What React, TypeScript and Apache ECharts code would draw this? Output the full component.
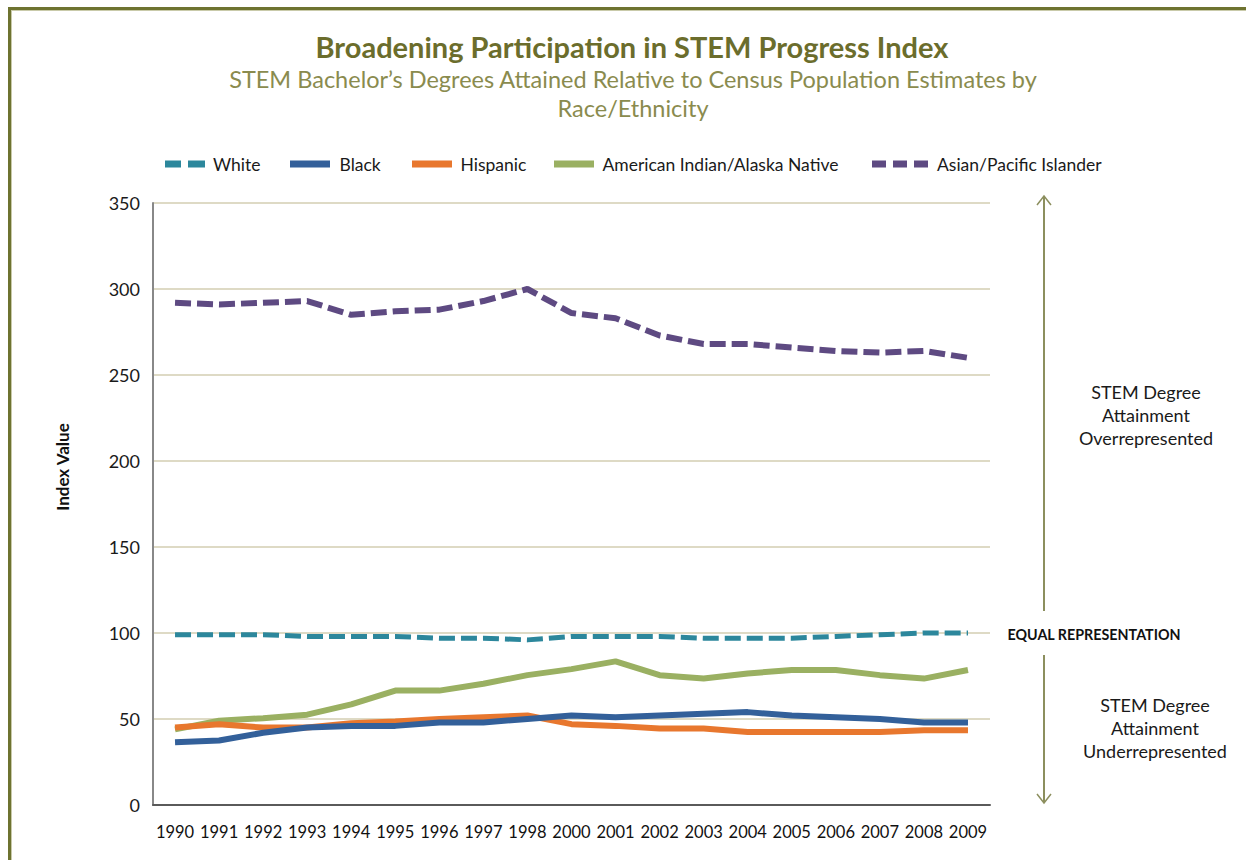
import { useEffect, useRef } from 'react';
import * as echarts from 'echarts';

const years = ['1990', '1991', '1992', '1993', '1994', '1995', '1996', '1997', '1998', '2000', '2001', '2002', '2003', '2004', '2005', '2006', '2007', '2008', '2009'];
const white = [99, 99, 99, 98, 98, 98, 97, 97, 96, 98, 98, 98, 97, 97, 97, 98, 99, 100, 100];
const black = [36.5, 37.5, 42, 45, 46, 46, 48, 48, 50, 52, 51, 52, 53, 54, 52, 51, 50, 48, 48];
const hispanic = [45, 47, 45, 45, 47.5, 48.5, 50, 51, 52, 47, 46, 44.5, 44.5, 42.5, 42.5, 42.5, 42.5, 43.5, 43.5];
const amIndian = [44, 49, 50.5, 52.5, 58.5, 66.5, 66.5, 70.5, 75.5, 79, 83.5, 75.5, 73.5, 76.5, 78.5, 78.5, 75.5, 73.5, 78.5];
const asian = [292, 291, 292, 293, 285, 287, 288, 293, 300, 286, 283, 273, 268, 268, 266, 264, 263, 264, 260];
const yTicks = [0, 50, 100, 150, 200, 250, 300, 350];

const FONT = 'Lato, "Open Sans", sans-serif';
const C_WHITE = '#2C879C';
const C_BLACK = '#33609A';
const C_HISP = '#E8772E';
const C_AMIND = '#9AB062';
const C_ASIAN = '#5E4A82';
const OLIVE = '#6E7330';
const ARROW = '#8C8F5E';

export default function App() {
  const ref = useRef<HTMLDivElement>(null);
  useEffect(() => {
    document.body.style.margin = '0';
    const chart = echarts.init(ref.current!, null, { renderer: 'svg' });
    const legendText = { fontFamily: FONT, fontSize: 17.5, color: '#1a1a1a', padding: [0, 0, 0, 3] };
    const mkLegend = (left: number, name: string, icon: string, w: number) => ({
      left,
      top: 150,
      itemWidth: w,
      itemHeight: 7,
      textStyle: legendText,
      data: [{ name, icon }],
    });
    const rectIcon = 'path://M0,0H40V7H0Z';
    chart.setOption({
      animation: false,
      backgroundColor: '#ffffff',
      legend: [
        mkLegend(160, 'White', 'path://M0,0H16V7H0Z M23,0H40V7H23Z', 40),
        mkLegend(285, 'Black', rectIcon, 43),
        mkLegend(407, 'Hispanic', rectIcon, 41),
        mkLegend(549, 'American Indian/Alaska Native', rectIcon, 41),
        mkLegend(867, 'Asian/Pacific Islander', 'path://M0,0H14V7H0Z M21,0H35V7H21Z M42,0H56V7H42Z', 58),
      ],
      grid: { left: 153, right: 256, top: 203, bottom: 55 },
      xAxis: {
        type: 'category',
        data: years,
        boundaryGap: true,
        axisLine: { lineStyle: { color: '#5a5a5a', width: 2 } },
        axisTick: { inside: true, length: 12, lineStyle: { color: '#6a6a6a', width: 1.5 } },
        axisLabel: { fontFamily: FONT, fontSize: 16.5, color: '#111', margin: 18, interval: 0 },
        splitLine: { show: false },
      },
      yAxis: {
        type: 'value',
        min: 0,
        max: 350,
        interval: 50,
        axisLine: { show: true, lineStyle: { color: '#888', width: 2 } },
        axisTick: { show: false },
        axisLabel: { fontFamily: FONT, fontSize: 18, color: '#1a1a1a', margin: 13, formatter: (v: number) => (yTicks.includes(v) ? String(v) : '') },
        splitLine: { lineStyle: { color: '#DEDAC5', width: 2 } },
      },
      series: [
        { name: 'White', type: 'line', data: white, color: C_WHITE, showSymbol: false, symbol: 'none', lineStyle: { width: 5, type: [16, 6], color: C_WHITE } },
        { name: 'American Indian/Alaska Native', type: 'line', data: amIndian, color: C_AMIND, showSymbol: false, symbol: 'none', lineStyle: { width: 6, color: C_AMIND } },
        { name: 'Hispanic', type: 'line', data: hispanic, color: C_HISP, showSymbol: false, symbol: 'none', lineStyle: { width: 6, color: C_HISP } },
        { name: 'Black', type: 'line', data: black, color: C_BLACK, showSymbol: false, symbol: 'none', lineStyle: { width: 6, color: C_BLACK } },
        { name: 'Asian/Pacific Islander', type: 'line', data: asian, color: C_ASIAN, showSymbol: false, symbol: 'none', lineStyle: { width: 6, type: [16, 6], color: C_ASIAN } },
      ],
      graphic: [
        { type: 'rect', shape: { x: 8, y: 7, width: 1238, height: 3 }, style: { fill: OLIVE } },
        { type: 'rect', shape: { x: 11, y: 10, width: 1235, height: 1 }, style: { fill: '#C9CAAA' } },
        { type: 'rect', shape: { x: 8, y: 7, width: 3, height: 853 }, style: { fill: OLIVE } },
        { type: 'rect', shape: { x: 11, y: 10, width: 1, height: 850 }, style: { fill: '#C9CAAA' } },
        { type: 'text', x: 632, y: 46, style: { text: 'Broadening Participation in STEM Progress Index', fill: '#6B6D2C', fontFamily: FONT, fontSize: 29, fontWeight: 'bold', align: 'center', verticalAlign: 'middle' } },
        { type: 'text', x: 633, y: 78.5, style: { text: 'STEM Bachelor’s Degrees Attained Relative to Census Population Estimates by', fill: '#8A8B4E', fontFamily: FONT, fontSize: 23.5, align: 'center', verticalAlign: 'middle' } },
        { type: 'text', x: 633, y: 107.5, style: { text: 'Race/Ethnicity', fill: '#8A8B4E', fontFamily: FONT, fontSize: 23.5, align: 'center', verticalAlign: 'middle' } },
        { type: 'text', x: 62, y: 467, rotation: Math.PI / 2, style: { text: 'Index Value', fill: '#111', fontFamily: FONT, fontSize: 17, fontWeight: 'bold', align: 'center', verticalAlign: 'middle' } },
        { type: 'line', shape: { x1: 1044, y1: 196, x2: 1044, y2: 611 }, style: { stroke: ARROW, lineWidth: 2 } },
        { type: 'polyline', shape: { points: [[1037, 205], [1044, 196], [1051, 205]] }, style: { stroke: ARROW, lineWidth: 1.5, fill: 'none' } },
        { type: 'line', shape: { x1: 1044, y1: 655, x2: 1044, y2: 803 }, style: { stroke: ARROW, lineWidth: 2 } },
        { type: 'polyline', shape: { points: [[1037, 794], [1044, 803], [1051, 794]] }, style: { stroke: ARROW, lineWidth: 1.5, fill: 'none' } },
        { type: 'text', x: 1094, y: 634, style: { text: 'EQUAL REPRESENTATION', fill: '#111', fontFamily: FONT, fontSize: 14.3, fontWeight: 'bold', align: 'center', verticalAlign: 'middle' } },
        { type: 'text', x: 1146, y: 415, style: { text: 'STEM Degree\nAttainment\nOverrepresented', fill: '#1a1a1a', fontFamily: FONT, fontSize: 18, lineHeight: 23, align: 'center', verticalAlign: 'middle' } },
        { type: 'text', x: 1155, y: 728, style: { text: 'STEM Degree\nAttainment\nUnderrepresented', fill: '#1a1a1a', fontFamily: FONT, fontSize: 18, lineHeight: 23, align: 'center', verticalAlign: 'middle' } },
      ],
    });
    return () => chart.dispose();
  }, []);
  return <div ref={ref} style={{ width: 1246, height: 860 }} />;
}
